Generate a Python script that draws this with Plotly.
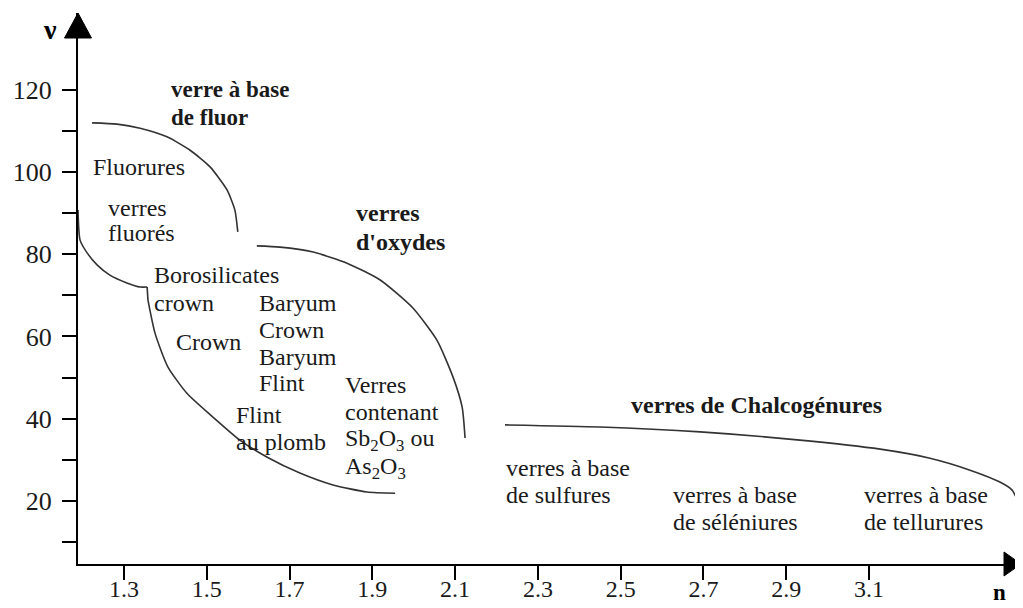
import plotly.graph_objects as go

# ---- data ----
fluor_n = [1.223, 1.283, 1.339, 1.404, 1.459, 1.508, 1.549, 1.568, 1.575]
fluor_v = [111.9, 111.6, 110.6, 108.5, 105.3, 101.2, 95.6, 90.7, 85.4]

oxyde_upper_n = [1.621, 1.677, 1.757, 1.839, 1.919, 1.998, 2.056, 2.095, 2.117, 2.124]
oxyde_upper_v = [82.0, 81.7, 80.5, 77.8, 73.7, 66.9, 59.1, 50.1, 42.8, 35.3]

# lower boundary of the oxide family: left arc, small step, then the long arc
oxyde_arc1_n = [1.189, 1.194, 1.211, 1.235, 1.266, 1.307, 1.339, 1.356]
oxyde_arc1_v = [90.7, 83.4, 80.3, 77.4, 74.9, 73.0, 72.0, 72.0]
oxyde_step_n = [1.356, 1.358]
oxyde_step_v = [72.0, 68.8]
oxyde_arc2_n = [1.358, 1.375, 1.406, 1.452, 1.515, 1.580, 1.645, 1.725, 1.805, 1.887, 1.955]
oxyde_arc2_v = [68.8, 60.8, 52.6, 46.2, 40.4, 34.8, 30.7, 26.8, 23.9, 22.2, 21.9]

chalco_n = [2.2205, 2.450, 2.692, 2.933, 3.127, 3.247, 3.344, 3.416, 3.445, 3.455]
chalco_v = [38.5, 38.0, 36.8, 34.8, 32.6, 30.4, 27.5, 24.6, 22.7, 21.0]

x_tick_vals = [1.3, 1.5, 1.7, 1.9, 2.1, 2.3, 2.5, 2.7, 2.9, 3.1]
x_tick_text = ["1.3", "1.5", "1.7", "1.9", "2.1", "2.3", "2.5", "2.7", "2.9", "3.1"]
y_tick_vals = [20, 40, 60, 80, 100, 120]
y_tick_text = ["20", "40", "60", "80", "100", "120"]
y_minor_vals = [10, 30, 50, 70, 90, 110]

# region labels: one entry per text line
label_text = ["Fluorures", "verres", "fluorés", "Borosilicates", "crown", "Crown",
              "Baryum", "Crown", "Baryum", "Flint", "Flint", "au plomb",
              "Verres", "contenant", "Sb<sub>2</sub>O<sub>3</sub> ou", "As<sub>2</sub>O<sub>3</sub>",
              "verres à base", "de sulfures", "verres à base", "de séléniures",
              "verres à base", "de tellurures"]
label_n = [1.223, 1.259, 1.259, 1.370, 1.370, 1.423,
           1.624, 1.624, 1.624, 1.624, 1.568, 1.568,
           1.8315, 1.8315, 1.8315, 1.8315,
           2.2205, 2.2205, 2.624, 2.624, 3.085, 3.085]
label_v = [101.2, 91.2, 85.1, 74.9, 68.1, 58.6,
           68.1, 61.6, 55.0, 48.7, 40.9, 34.3,
           48.2, 41.6, 34.8, 28.0,
           28.0, 21.5, 21.5, 14.9, 21.5, 14.9]

# family headings (bold)
heading_text = ["verre à base", "de fluor", "verres", "d'oxydes"]
heading_n = [1.411, 1.411, 1.858, 1.858]
heading_v = [119.9, 113.1, 90.0, 82.9]
chalco_title = "verres de Chalcogénures"
chalco_title_n = 2.829
chalco_title_v = 43.3

FONT = "Liberation Serif"
INK = "#1a1a1a"
CURVE = "#333333"

fig = go.Figure()
curves = [(fluor_n, fluor_v, "spline"), (oxyde_upper_n, oxyde_upper_v, "spline"),
          (oxyde_arc1_n, oxyde_arc1_v, "spline"), (oxyde_step_n, oxyde_step_v, "linear"),
          (oxyde_arc2_n, oxyde_arc2_v, "spline"), (chalco_n, chalco_v, "spline")]
for xs, ys, shp in curves:
    fig.add_trace(go.Scatter(x=xs, y=ys, mode="lines",
                             line=dict(color=CURVE, width=1.6, shape=shp, smoothing=0.6),
                             hoverinfo="skip", showlegend=False, cliponaxis=False))

annotations = []
for t, x, y in zip(label_text, label_n, label_v):
    annotations.append(dict(x=x, y=y, xref="x", yref="y", text=t, showarrow=False,
                            xanchor="left", yanchor="middle", borderpad=0,
                            font=dict(family=FONT, size=24, color=INK)))
for i, (t, x, y) in enumerate(zip(heading_text, heading_n, heading_v)):
    annotations.append(dict(x=x, y=y, xref="x", yref="y", text="<b>" + t + "</b>",
                            showarrow=False, xanchor="left", yanchor="middle", borderpad=0,
                            font=dict(family=FONT, size=23 if i < 2 else 24, color=INK)))
annotations.append(dict(x=chalco_title_n, y=chalco_title_v, xref="x", yref="y",
                        text="<b>" + chalco_title + "</b>", showarrow=False,
                        xanchor="center", yanchor="middle",
                        font=dict(family=FONT, size=24, color=INK)))
# axis names
annotations.append(dict(x=-0.0297, y=0.97, xref="paper", yref="paper", text="<b>ν</b>",
                        showarrow=False, xanchor="center", yanchor="middle", borderpad=0,
                        font=dict(family=FONT, size=28, color="black")))
annotations.append(dict(x=0.9767, y=-0.052, xref="paper", yref="paper", text="<b>n</b>",
                        showarrow=False, xanchor="center", yanchor="middle", borderpad=0,
                        font=dict(family=FONT, size=23, color="black")))

shapes = [
    # arrowhead on the vertical axis
    dict(type="path", xref="paper", yref="paper",
         path="M 0 1 L -0.0143 0.9546 L 0.0143 0.9546 Z",
         fillcolor="black", line=dict(color="black", width=1)),
    # arrowhead on the horizontal axis
    dict(type="path", xref="paper", yref="paper",
         path="M 1 0 L 0.982 0.0218 L 0.982 -0.0218 Z",
         fillcolor="black", line=dict(color="black", width=1)),
]

# the page body adds an 8px offset, so the figure is 8px smaller on each axis
fig.update_layout(
    width=1015, height=600,
    margin=dict(l=70, r=2, t=5, b=44, autoexpand=False),
    paper_bgcolor="white", plot_bgcolor="white",
    showlegend=False,
    annotations=annotations,
    shapes=shapes,
    xaxis=dict(range=[1.189, 3.467], showgrid=False, zeroline=False, automargin=False,
               showline=True, linecolor="black", linewidth=2,
               ticks="outside", ticklen=14, tickwidth=2, tickcolor="black",
               tickvals=x_tick_vals, ticktext=x_tick_text, ticklabelstandoff=-12,
               tickfont=dict(family=FONT, size=24, color=INK)),
    yaxis=dict(range=[4.69, 138.6], showgrid=False, zeroline=False, automargin=False,
               showline=True, linecolor="black", linewidth=2,
               ticks="outside", ticklen=14, tickwidth=2, tickcolor="black",
               tickvals=y_tick_vals, ticktext=y_tick_text,
               ticklabelstandoff=5,
               minor=dict(tickvals=y_minor_vals, ticks="outside", ticklen=14,
                          tickwidth=2, tickcolor="black", showgrid=False),
               tickfont=dict(family=FONT, size=26, color=INK)),
)

fig.write_html("out.html")
